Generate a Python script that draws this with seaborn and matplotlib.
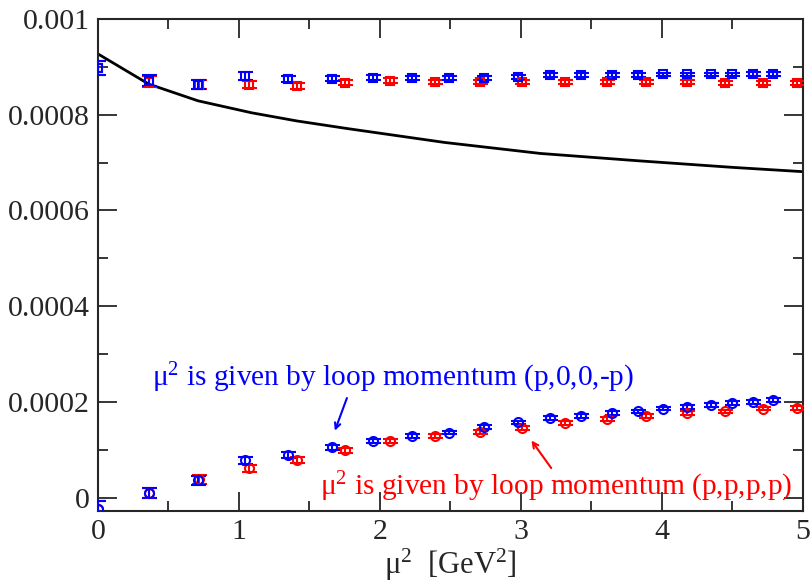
import numpy as np
import pandas as pd
import matplotlib
matplotlib.use("Agg")
import matplotlib.pyplot as plt
from matplotlib.ticker import MultipleLocator, FixedLocator
import seaborn as sns

# ---------------- data ----------------
x_blue = [0.0, 0.36, 0.71, 1.04, 1.35, 1.66, 1.95, 2.23, 2.49, 2.74, 2.98,
          3.21, 3.43, 3.65, 3.83, 4.01, 4.18, 4.35, 4.50, 4.65, 4.79]
upper_blue = [0.000898, 0.000871, 0.000863, 0.000881, 0.000875, 0.000875, 0.000877,
              0.000877, 0.000877, 0.000877, 0.000879, 0.000883, 0.000883, 0.000883,
              0.000883, 0.000884, 0.000884, 0.000884, 0.000884, 0.000885, 0.000885]
upper_blue_err = [1.5e-5, 1.2e-5, 1.0e-5, 8e-6, 6e-6, 5e-6, 5e-6, 4.5e-6, 4.5e-6, 4e-6, 4e-6,
                  4e-6, 4e-6, 4e-6, 3.5e-6, 3.5e-6, 3.5e-6, 3.5e-6, 3.5e-6, 3.5e-6, 3.5e-6]
lower_blue = [-2.3e-5, 9.4e-6, 3.6e-5, 7.8e-5, 8.9e-5, 1.05e-4, 1.18e-4, 1.28e-4, 1.36e-4,
              1.47e-4, 1.57e-4, 1.66e-4, 1.70e-4, 1.76e-4, 1.80e-4, 1.86e-4, 1.89e-4,
              1.94e-4, 1.98e-4, 2.00e-4, 2.04e-4]
lower_blue_err = [1.5e-5, 1.1e-5, 1.0e-5, 7e-6, 6e-6, 5e-6, 4.5e-6, 4e-6, 4e-6, 4e-6, 4e-6,
                  4e-6, 4e-6, 4e-6, 4e-6, 4e-6, 4e-6, 4e-6, 4e-6, 4e-6, 4e-6]

x_red = [0.0, 0.36, 0.72, 1.07, 1.41, 1.75, 2.07, 2.39, 2.71, 3.01, 3.31,
         3.61, 3.89, 4.18, 4.45, 4.72, 4.96]
upper_red = [0.000898, 0.000869, 0.000863, 0.000863, 0.000860, 0.000867, 0.000871,
             0.000869, 0.000869, 0.000869, 0.000869, 0.000869, 0.000869, 0.000869,
             0.000867, 0.000867, 0.000867]
upper_red_err = [1.5e-5, 1.2e-5, 1.0e-5, 8e-6, 7e-6, 5e-6, 5e-6, 4.5e-6, 4.5e-6, 4e-6, 4e-6,
                 4e-6, 4e-6, 4e-6, 4e-6, 4e-6, 4e-6]
lower_red = [-2.3e-5, 1.0e-5, 3.8e-5, 6.1e-5, 7.8e-5, 9.9e-5, 1.18e-4, 1.28e-4, 1.37e-4,
             1.46e-4, 1.56e-4, 1.64e-4, 1.70e-4, 1.76e-4, 1.80e-4, 1.86e-4, 1.88e-4]
lower_red_err = [1.5e-5, 1.1e-5, 1.0e-5, 7e-6, 6e-6, 5e-6, 4.5e-6, 4e-6, 4e-6, 4e-6, 4e-6,
                 4e-6, 4e-6, 4e-6, 4e-6, 4e-6, 4e-6]

x_curve = [0.0, 0.36, 0.71, 1.09, 1.41, 1.77, 2.46, 3.14, 3.82, 4.5, 5.0]
y_curve = [0.000927, 0.000864, 0.000829, 0.000804, 0.000787, 0.000771, 0.000742,
           0.000719, 0.000704, 0.000690, 0.000681]

x_ticks = [0, 1, 2, 3, 4, 5]
y_ticks = [0, 0.0002, 0.0004, 0.0006, 0.0008, 0.001]
y_tick_labels = ["0", "0.0002", "0.0004", "0.0006", "0.0008", "0.001"]

blue_text = "μ$^{2}$ is given by loop momentum (p,0,0,-p)"
red_text = "μ$^{2}$ is given by loop momentum (p,p,p,p)"
x_label = "μ$^{2}$  [GeV$^{2}$]"

# ---------------- style ----------------
sns.set_style("ticks")
plt.rcParams["font.family"] = ["Liberation Serif", "DejaVu Serif"]
plt.rcParams["mathtext.fontset"] = "custom"
plt.rcParams["mathtext.rm"] = "Liberation Serif"
plt.rcParams["mathtext.it"] = "Liberation Serif:italic"

fig = plt.figure(figsize=(8.11, 5.84), dpi=100)
ax = fig.add_axes([0.1208, 0.125, 0.869, 0.8425])

BLUE = "#0000ff"
RED = "#ff0000"

# black curve
sns.lineplot(x=x_curve, y=y_curve, ax=ax, color="black", lw=2, sort=False)

def draw(xs, ys, es, color, marker, ms):
    ax.errorbar(xs, ys, yerr=es, fmt=marker, mfc="none", mec=color, ms=ms, mew=1.5,
                ecolor=color, elinewidth=1.5, capsize=5.4, capthick=1.5, zorder=3)

draw(x_red, upper_red, upper_red_err, RED, "s", 5.5)
draw(x_red, lower_red, lower_red_err, RED, "o", 6.5)
draw(x_blue, upper_blue, upper_blue_err, BLUE, "s", 5.5)
draw(x_blue, lower_blue, lower_blue_err, BLUE, "o", 6.5)

ax.set_xlim(0, 5)
ax.set_ylim(-0.000028, 0.001)
ax.xaxis.set_major_locator(FixedLocator(x_ticks))
ax.xaxis.set_minor_locator(MultipleLocator(0.5))
ax.yaxis.set_major_locator(FixedLocator(y_ticks))
ax.yaxis.set_minor_locator(MultipleLocator(0.0001))
ax.set_yticklabels(y_tick_labels)
ax.tick_params(which="both", direction="in", top=True, right=True, width=1.3,
               labelsize=21.5, pad=6)
ax.tick_params(which="major", length=14)
ax.tick_params(which="minor", length=7)
for s in ax.spines.values():
    s.set_linewidth(1.5)
    s.set_visible(True)

ax.set_xlabel(x_label, fontsize=22, labelpad=1)

ax.text(0.383, 2.34e-4, blue_text, color=BLUE, fontsize=21.2)
ax.text(1.574, 5.2e-6, red_text, color=RED, fontsize=21.2)

ax.annotate("", xy=(1.674, 1.344e-4), xytext=(1.773, 2.135e-4),
            arrowprops=dict(arrowstyle="->", color=BLUE, lw=1.5))
ax.annotate("", xy=(3.064, 1.24e-4), xytext=(3.227, 5.7e-5),
            arrowprops=dict(arrowstyle="->", color=RED, lw=1.5))

fig.savefig("out.png", dpi=100)
